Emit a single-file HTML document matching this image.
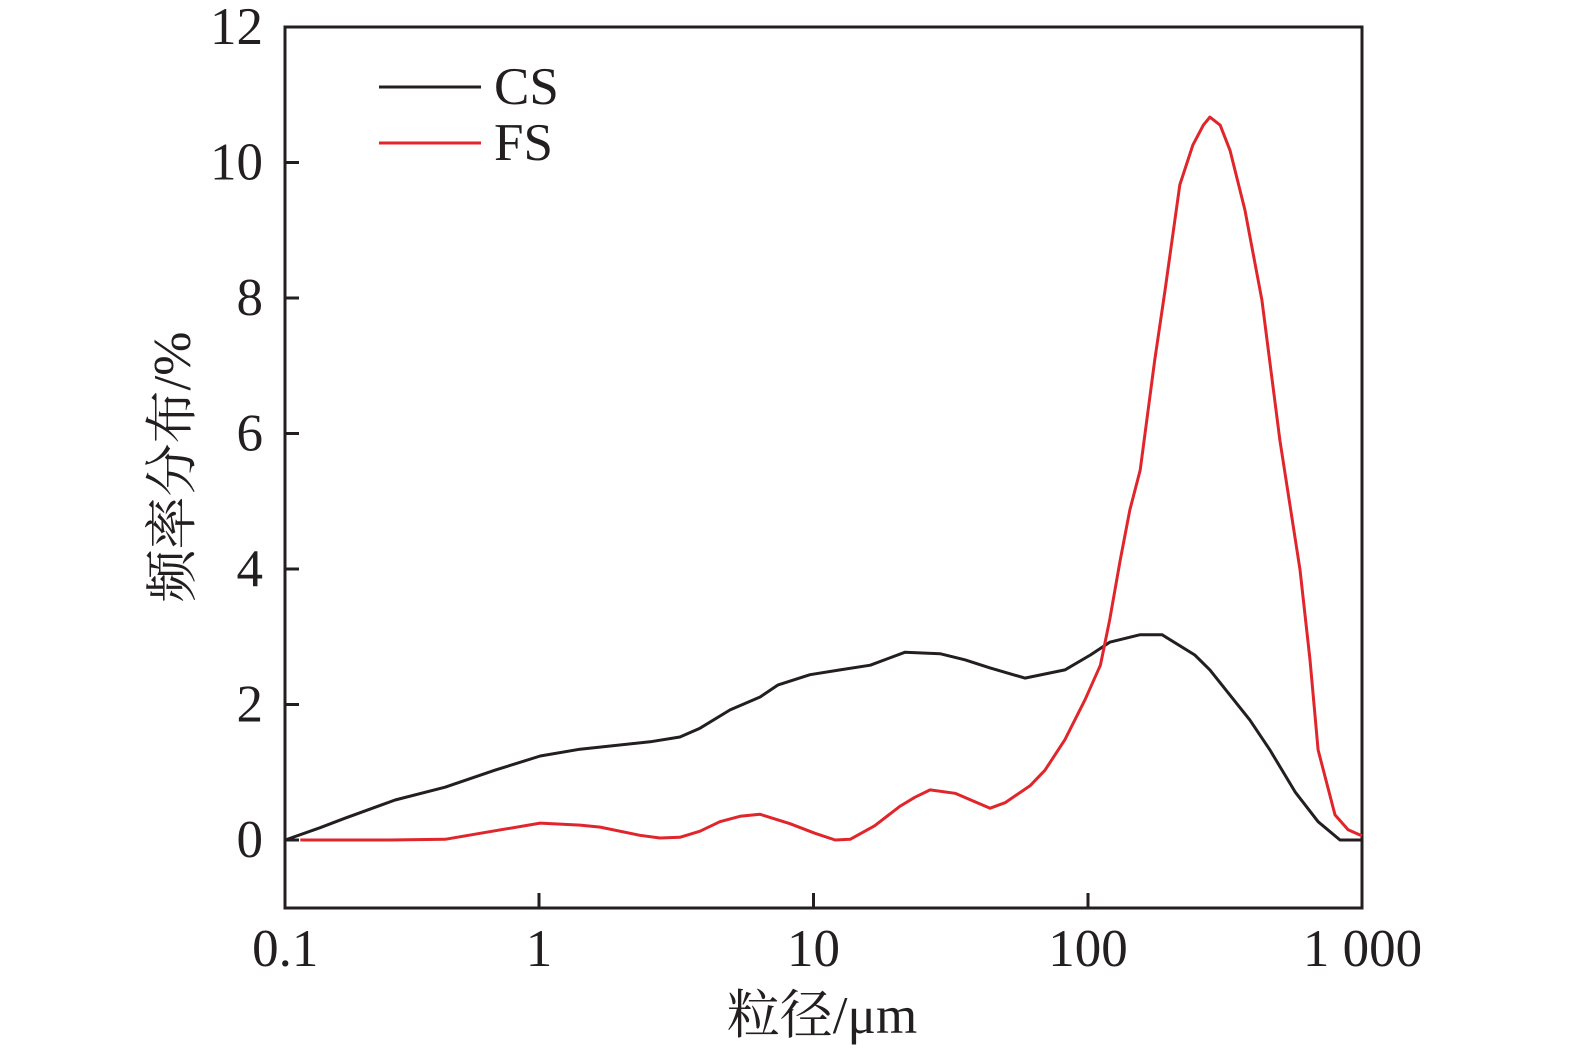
<!DOCTYPE html>
<html><head><meta charset="utf-8"><style>
body{margin:0;background:#fff}
svg text{font-family:"Liberation Serif","Noto Serif CJK SC",serif;fill:#231f20}
</style></head><body>
<svg id="chart" width="1575" height="1053" viewBox="0 0 1575 1053" xmlns="http://www.w3.org/2000/svg">
<g id="axes"></g>
<g id="series"></g>
<g>
<line x1="379" y1="87" x2="481" y2="87" stroke="#231f20" stroke-width="3"/>
<text x="494" y="104" font-size="53">CS</text>
<line x1="379" y1="143" x2="481" y2="143" stroke="#e0252b" stroke-width="3"/>
<text x="494" y="160" font-size="53">FS</text>
</g>
<text x="822" y="1033" font-size="53" text-anchor="middle">粒径/μm</text>
<text transform="translate(190,467) rotate(-90)" font-size="53" text-anchor="middle">频率分布/%</text>
</svg>
<script>
const csX=[0.119,0.159,0.196,0.299,0.455,0.691,1.01,1.41,2.54,3.26,3.86,4.97,6.39,7.43,9.71,12.5,16.1,21.5,28.9,35.6,44.0,58.9,82.4,102,120,155,186,245,278,389,460,568,689,828,996];
const csY=[0,0.18,0.32,0.59,0.78,1.03,1.24,1.34,1.45,1.52,1.65,1.92,2.11,2.29,2.44,2.51,2.58,2.77,2.75,2.66,2.54,2.39,2.51,2.73,2.92,3.03,3.03,2.73,2.51,1.77,1.33,0.71,0.27,0,0];
const fsX=[0.135,0.286,0.455,1.01,1.41,1.67,2.33,2.76,3.26,3.86,4.56,5.40,6.39,8.21,10.1,12.0,13.6,16.7,20.7,23.4,26.6,32.8,44.0,49.9,61.5,69.7,82.4,97.5,111,120,131,142,155,175,191,216,241,263,278,303,329,373,430,500,592,644,689,794,886,996];
const fsY=[0,0,0.01,0.25,0.22,0.19,0.07,0.03,0.04,0.13,0.27,0.35,0.38,0.24,0.10,0,0.01,0.21,0.5,0.63,0.74,0.69,0.47,0.55,0.80,1.03,1.48,2.07,2.58,3.25,4.13,4.87,5.46,7.08,8.12,9.67,10.26,10.55,10.67,10.55,10.18,9.30,7.97,5.90,3.99,2.66,1.33,0.37,0.15,0.06];
const yTicks=[0,2,4,6,8,10,12];
const xTicks=[1,10,100];
const xLabels=[[0.119,"0.1"],[1,"1"],[10,"10"],[100,"100"],[1000,"1 000"]];
const L=285,R=1362,T=27,B=908,dec=274.5,x1px=539;
const xs=v=>x1px+Math.log10(v)*dec;
const ys=v=>840-v*67.75;
const NS="http://www.w3.org/2000/svg";
const ax=document.getElementById('axes'),se=document.getElementById('series');
function mk(t,a,p){const e=document.createElementNS(NS,t);for(const k in a)e.setAttribute(k,a[k]);p.appendChild(e);return e;}
const fr=mk('rect',{x:L,y:T,width:R-L,height:B-T,fill:'none',stroke:'#231f20','stroke-width':3},ax);


yTicks.forEach(v=>{
 const t=mk('line',{x1:L,x2:L+14,y1:ys(v),y2:ys(v),stroke:'#231f20','stroke-width':3},ax);
 
 
 const l=mk('text',{x:263,y:ys(v)+17,'font-size':53,'text-anchor':'end'},ax);
 l.textContent=v;
 
 
});
xTicks.forEach(v=>{
 const t=mk('line',{x1:xs(v),x2:xs(v),y1:B,y2:B-15,stroke:'#231f20','stroke-width':3},ax);
 
 
});
xLabels.forEach(([v,s])=>{
 const l=mk('text',{x:Math.max(xs(v),L),y:966,'font-size':53,'text-anchor':'middle'},ax);
 l.textContent=s;
 
 
});
function line(X,Y,c,n){
 const p=mk('polyline',{points:X.map((x,i)=>xs(x).toFixed(1)+','+ys(Y[i]).toFixed(1)).join(' '),fill:'none',stroke:c,'stroke-width':3,'stroke-linejoin':'round'},se);
 
 
}
line(csX,csY,'#231f20','cs-line');
line(fsX,fsY,'#e0252b','fs-line');
</script>
</body></html>
